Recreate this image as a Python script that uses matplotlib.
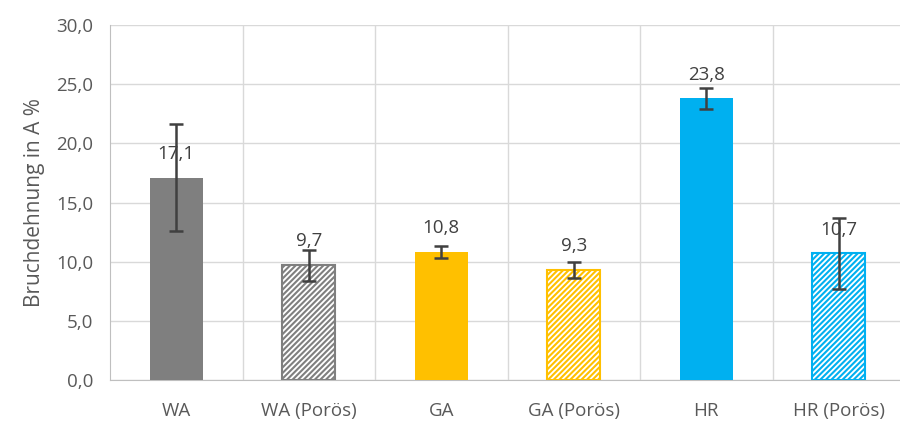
import matplotlib
matplotlib.use("Agg")
import matplotlib.pyplot as plt
from matplotlib.ticker import MultipleLocator, FuncFormatter

categories = ["WA", "WA (Porös)", "GA", "GA (Porös)", "HR", "HR (Porös)"]
values = [17.1, 9.7, 10.8, 9.3, 23.8, 10.7]
errors = [4.5, 1.3, 0.5, 0.7, 0.9, 3.0]
colors = ["#7F7F7F", "#7F7F7F", "#FFC000", "#FFC000", "#00B0F0", "#00B0F0"]
porous = [False, True, False, True, False, True]

plt.rcParams["font.family"] = ["Open Sans", "DejaVu Sans"]
plt.rcParams["hatch.linewidth"] = 1.5

fig = plt.figure(figsize=(9.0, 4.21), dpi=100)
ax = fig.add_axes([110 / 900, 41 / 421, 795 / 900, 355 / 421])

x = list(range(len(categories)))
for xi, v, c, p in zip(x, values, colors, porous):
    if p:
        ax.bar(xi, v, width=0.4, facecolor="white", edgecolor=c,
               hatch="//////", linewidth=1.5, zorder=3)
    else:
        ax.bar(xi, v, width=0.4, color=c, zorder=3)

ax.errorbar(x, values, yerr=errors, fmt="none", ecolor="#404040",
            elinewidth=1.8, capsize=5, capthick=1.8, zorder=4)

for xi, v in zip(x, values):
    ax.text(xi, v + 1.25, f"{v:.1f}".replace(".", ","), ha="center",
            va="bottom", fontsize=13.5, color="#404040", zorder=5)

ax.set_xlim(-0.5, len(categories) - 0.5)
ax.set_ylim(0, 30)
ax.yaxis.set_major_locator(MultipleLocator(5))
ax.yaxis.set_major_formatter(FuncFormatter(lambda v, _: f"{v:.1f}".replace(".", ",")))
ax.set_xticks(x)
ax.set_xticklabels(categories)
ax.tick_params(axis="both", length=0, labelsize=13.5, labelcolor="#595959")
ax.tick_params(axis="x", pad=16)
ax.tick_params(axis="y", pad=12)

ax.grid(axis="y", color="#D9D9D9", linewidth=1.0, zorder=0)
for b in [i + 0.5 for i in range(len(categories) - 1)]:
    ax.axvline(b, color="#D9D9D9", linewidth=1.0, zorder=0)

for s in ["top", "right"]:
    ax.spines[s].set_visible(False)
ax.spines["left"].set_color("#BFBFBF")
ax.spines["bottom"].set_color("#BFBFBF")

ax.set_ylabel("Bruchdehnung in A %", fontsize=15, color="#595959", labelpad=8)

fig.savefig("out.png", dpi=100)
